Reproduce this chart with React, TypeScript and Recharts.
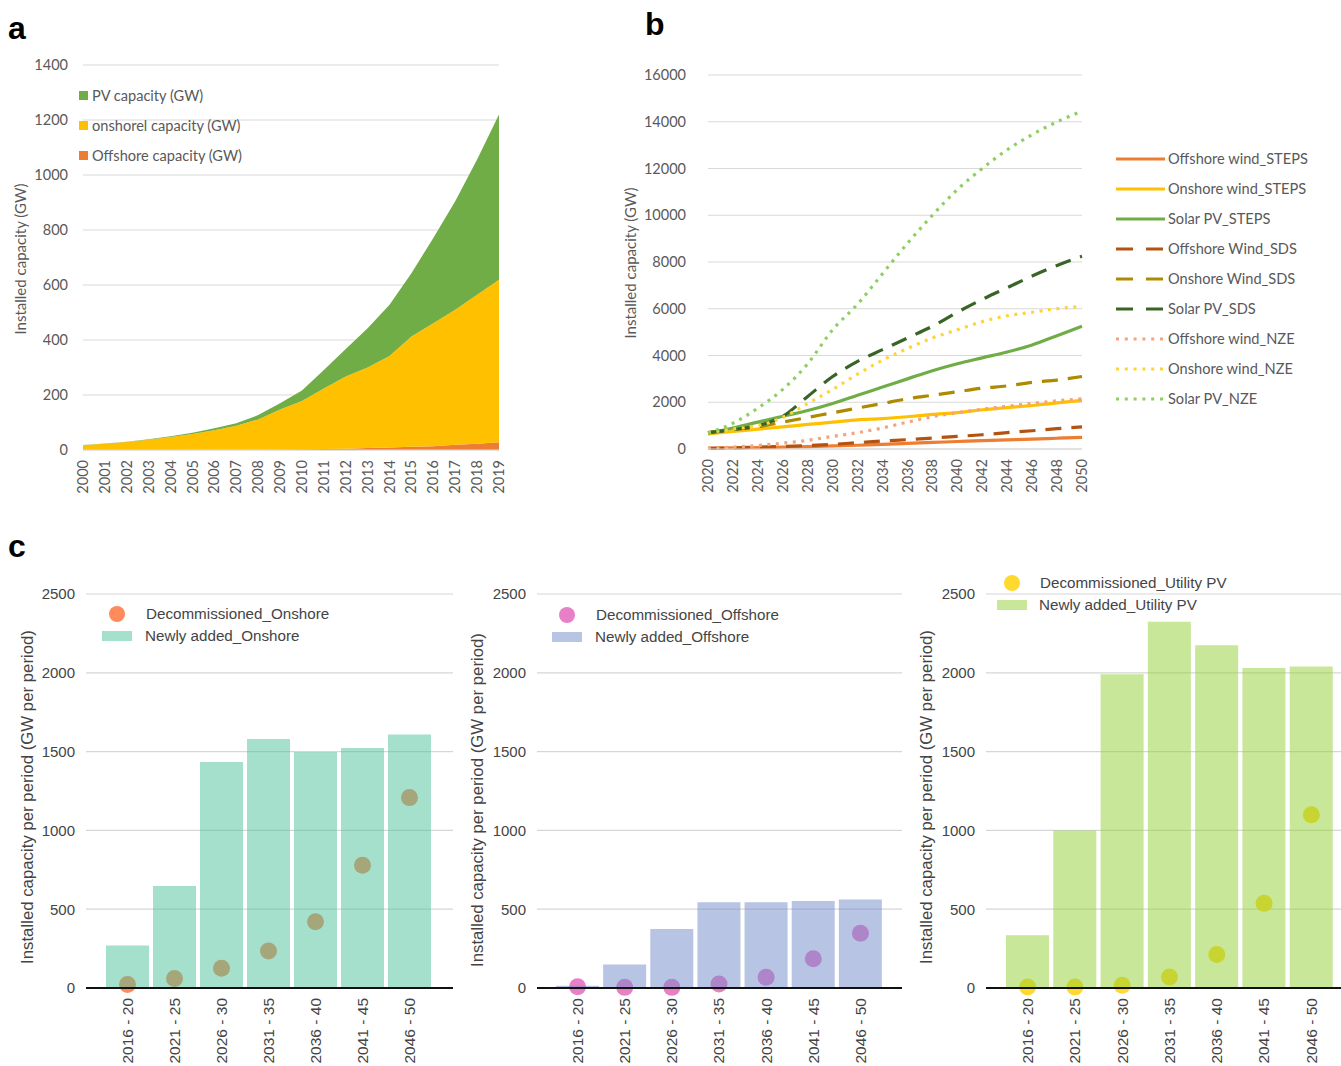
import React from 'react';
import {
  AreaChart,
  Area,
  LineChart,
  Line,
  ComposedChart,
  Bar,
  Scatter,
  XAxis,
  YAxis,
  CartesianGrid,
} from 'recharts';

// ---- panel a: historical installed capacity (GW)
const years = ['2000', '2001', '2002', '2003', '2004', '2005', '2006', '2007', '2008', '2009',
  '2010', '2011', '2012', '2013', '2014', '2015', '2016', '2017', '2018', '2019'];
const pvCapacity = [1, 1, 1, 2, 3, 5, 7, 9, 16, 23, 38, 67, 100, 143, 186, 230, 310, 395, 491, 601];
const onshoreCapacity = [17, 23, 29, 37, 47, 57, 71, 87, 110, 145, 175, 220, 262, 293, 333, 401, 447, 491, 542, 591];
const offshoreCapacity = [0, 0, 0, 0, 0, 1, 1, 1, 1, 2, 3, 4, 5, 7, 9, 12, 14, 19, 23, 28];
const aTicks = [0, 200, 400, 600, 800, 1000, 1200, 1400];

// ---- panel b: scenarios 2020-2050 (GW)
const scenarioYears = ['2020', '2022', '2024', '2026', '2028', '2030', '2032', '2034',
  '2036', '2038', '2040', '2042', '2044', '2046', '2048', '2050'];
const offshoreWindSTEPS = [30, 45, 60, 80, 100, 130, 160, 200, 240, 280, 320, 360, 390, 420, 460, 500];
const onshoreWindSTEPS = [650, 750, 850, 950, 1050, 1150, 1250, 1300, 1380, 1480, 1560, 1680, 1770, 1860, 1970, 2080];
const solarPvSTEPS = [680, 900, 1150, 1400, 1650, 1950, 2300, 2650, 3000, 3350, 3650, 3900, 4150, 4450, 4850, 5250];
const offshoreWindSDS = [30, 50, 80, 110, 150, 200, 270, 340, 400, 470, 540, 610, 700, 780, 870, 950];
const onshoreWindSDS = [700, 830, 950, 1150, 1350, 1550, 1750, 1950, 2150, 2300, 2450, 2600, 2700, 2850, 2950, 3100];
const solarPvSDS = [700, 830, 1000, 1400, 2250, 3100, 3750, 4250, 4750, 5250, 5850, 6400, 6900, 7400, 7850, 8250];
const offshoreWindNZE = [30, 80, 150, 250, 370, 540, 700, 900, 1150, 1380, 1550, 1700, 1830, 1950, 2060, 2150];
const onshoreWindNZE = [700, 850, 1000, 1350, 1950, 2550, 3200, 3800, 4300, 4750, 5100, 5450, 5700, 5850, 6000, 6100];
const solarPvNZE = [680, 1100, 1750, 2550, 3650, 5100, 6200, 7500, 8800, 10000, 11100, 12000, 12800, 13450, 14000, 14450];
const bTicks = [0, 2000, 4000, 6000, 8000, 10000, 12000, 14000, 16000];

// ---- panel c: capacity per period (GW per period)
const periods = ['2016 - 20', '2021 - 25', '2026 - 30', '2031 - 35', '2036 - 40', '2041 - 45', '2046 - 50'];
const onshoreAdded = [270, 647, 1434, 1580, 1497, 1523, 1608];
const onshoreDecom = [22, 61, 126, 235, 420, 779, 1208];
const offshoreAdded = [15, 149, 374, 544, 544, 552, 561];
const offshoreDecom = [8, 4, 4, 25, 68, 185, 348];
const pvAdded = [335, 1000, 1991, 2324, 2175, 2031, 2040];
const pvDecom = [6, 6, 17, 70, 212, 537, 1099];
const cTicks = [0, 500, 1000, 1500, 2000, 2500];

const OFFICE = 'Lato, "Open Sans", sans-serif';
const ARIAL = '"Liberation Sans", Arial, sans-serif';
const OFFICE_GREY = '#595959';

const bSeries = [
  { key: 'offWindSteps', name: 'Offshore wind_STEPS', values: offshoreWindSTEPS, color: '#ED7D31', dash: undefined },
  { key: 'onWindSteps', name: 'Onshore wind_STEPS', values: onshoreWindSTEPS, color: '#FFC000', dash: undefined },
  { key: 'pvSteps', name: 'Solar PV_STEPS', values: solarPvSTEPS, color: '#70AD47', dash: undefined },
  { key: 'offWindSds', name: 'Offshore Wind_SDS', values: offshoreWindSDS, color: '#B4520F', dash: '16 10' },
  { key: 'onWindSds', name: 'Onshore Wind_SDS', values: onshoreWindSDS, color: '#AD8A00', dash: '16 10' },
  { key: 'pvSds', name: 'Solar PV_SDS', values: solarPvSDS, color: '#3A6426', dash: '16 10' },
  { key: 'offWindNze', name: 'Offshore wind_NZE', values: offshoreWindNZE, color: '#F4A37A', dash: '3 5.5' },
  { key: 'onWindNze', name: 'Onshore wind_NZE', values: onshoreWindNZE, color: '#FFD43B', dash: '3 5.5' },
  { key: 'pvNze', name: 'Solar PV_NZE', values: solarPvNZE, color: '#8FCF62', dash: '3 5.5' },
];

const aData = years.map((y, i) => ({
  year: y,
  offshore: offshoreCapacity[i],
  onshore: onshoreCapacity[i],
  pv: pvCapacity[i],
}));

const bData = scenarioYears.map((y, i) => {
  const row: Record<string, string | number> = { year: y };
  bSeries.forEach(s => { row[s.key] = s.values[i]; });
  return row;
});

const RotatedTick = (props: any) => {
  const { x, y, payload, fontSize, fill, fontFamily } = props;
  return (
    <text
      x={x}
      y={y}
      transform={`rotate(-90 ${x} ${y})`}
      textAnchor="end"
      dx={-2}
      dy="0.35em"
      fontSize={fontSize}
      fill={fill}
      fontFamily={fontFamily}
    >
      {payload.value}
    </text>
  );
};

const VTitle = ({ x, y, text, size, font, color }: any) => (
  <div
    style={{
      position: 'absolute',
      left: x,
      top: y,
      transform: 'translate(-50%, -50%) rotate(-90deg)',
      whiteSpace: 'nowrap',
      fontSize: size,
      fontFamily: font,
      color,
    }}
  >
    {text}
  </div>
);

const PanelLetter = ({ x, y, letter }: any) => (
  <div style={{ position: 'absolute', left: x, top: y, fontSize: 32, fontWeight: 'bold', fontFamily: ARIAL, color: '#000', lineHeight: 1 }}>
    {letter}
  </div>
);

const PanelA = () => (
  <div style={{ position: 'absolute', left: 0, top: 50 }}>
    <AreaChart width={520} height={460} data={aData} margin={{ top: 15, right: 21, left: 23, bottom: 10 }}>
      <CartesianGrid vertical={false} stroke="#d9d9d9" />
      <XAxis
        dataKey="year"
        interval={0}
        height={50}
        axisLine={{ stroke: '#d9d9d9' }}
        tickLine={false}
        tick={<RotatedTick fontSize={14.5} fill={OFFICE_GREY} fontFamily={OFFICE} />}
      />
      <YAxis
        domain={[0, 1400]}
        ticks={aTicks}
        width={60}
        axisLine={false}
        tickLine={false}
        tickMargin={9}
        tick={{ fontSize: 14.5, fill: OFFICE_GREY, fontFamily: OFFICE }}
      />
      <Area type="linear" dataKey="offshore" stackId="a" stroke="none" fill="#ED7D31" fillOpacity={1} isAnimationActive={false} />
      <Area type="linear" dataKey="onshore" stackId="a" stroke="none" fill="#FFC000" fillOpacity={1} isAnimationActive={false} />
      <Area type="linear" dataKey="pv" stackId="a" stroke="none" fill="#70AD47" fillOpacity={1} isAnimationActive={false} />
    </AreaChart>
    <svg width={200} height={90} style={{ position: 'absolute', left: 70, top: 30 }}>
      {[
        { label: 'PV capacity (GW)', color: '#70AD47' },
        { label: 'onshorel capacity (GW)', color: '#FFC000' },
        { label: 'Offshore capacity (GW)', color: '#ED7D31' },
      ].map((e, i) => (
        <g key={e.label}>
          <rect x={9} y={11 + i * 30} width={9} height={9} fill={e.color} />
          <text x={22} y={15.5 + i * 30} dy="0.35em" fontSize={14.6} fill={OFFICE_GREY} fontFamily={OFFICE}>
            {e.label}
          </text>
        </g>
      ))}
    </svg>
  </div>
);

const PanelB = () => (
  <div style={{ position: 'absolute', left: 620, top: 50 }}>
    <LineChart width={480} height={460} data={bData} margin={{ top: 25, right: 18, left: 28, bottom: 10 }}>
      <CartesianGrid vertical={false} stroke="#d9d9d9" />
      <XAxis
        dataKey="year"
        interval={0}
        height={51}
        axisLine={{ stroke: '#d9d9d9' }}
        tickLine={false}
        tick={<RotatedTick fontSize={14.5} fill={OFFICE_GREY} fontFamily={OFFICE} />}
      />
      <YAxis
        domain={[0, 16000]}
        ticks={bTicks}
        width={60}
        axisLine={false}
        tickLine={false}
        tickMargin={16}
        tick={{ fontSize: 14.5, fill: OFFICE_GREY, fontFamily: OFFICE }}
      />
      {bSeries.map(s => (
        <Line
          key={s.key}
          type="monotone"
          dataKey={s.key}
          stroke={s.color}
          strokeWidth={3.2}
          strokeDasharray={s.dash}
          dot={false}
          isAnimationActive={false}
        />
      ))}
    </LineChart>
    <svg width={230} height={270} style={{ position: 'absolute', left: 490, top: 95 }}>
      {bSeries.map((s, i) => (
        <g key={s.key}>
          <line
            x1={6}
            x2={55}
            y1={14 + i * 30}
            y2={14 + i * 30}
            stroke={s.color}
            strokeWidth={3.2}
            strokeDasharray={s.dash ? (s.dash === '16 10' ? '17 13' : '3 5.8') : undefined}
          />
          <text x={58} y={14 + i * 30} dy="0.35em" fontSize={14.6} fill={OFFICE_GREY} fontFamily={OFFICE}>
            {s.name}
          </text>
        </g>
      ))}
    </svg>
  </div>
);

const PeriodChart = ({ left, width, marginLeft, marginRight, pad, added, decom, barColor, dotColor, legend }: any) => {
  const data = periods.map((p, i) => ({ period: p, added: added[i], decom: decom[i] }));
  return (
    <div style={{ position: 'absolute', left, top: 560 }}>
      <ComposedChart
        width={width}
        height={506}
        data={data}
        barCategoryGap={2}
        margin={{ top: 34, right: marginRight, left: marginLeft, bottom: 8 }}
      >
        <CartesianGrid vertical={false} stroke="#d6d6d6" strokeWidth={1.2} />
        <XAxis
          dataKey="period"
          interval={0}
          height={70}
          padding={pad}
          axisLine={{ stroke: '#111', strokeWidth: 2 }}
          tickLine={false}
          tick={<RotatedTick fontSize={15.5} fill="#444" fontFamily={ARIAL} />}
        />
        <YAxis
          domain={[0, 2500]}
          ticks={cTicks}
          width={60}
          axisLine={false}
          tickLine={false}
          tickMargin={5}
          tick={{ fontSize: 15, fill: '#444', fontFamily: ARIAL }}
        />
        <Scatter
          dataKey="decom"
          zIndex={100}
          isAnimationActive={false}
          shape={(p: any) => <circle cx={p.cx} cy={p.cy} r={8.5} fill={dotColor} />}
        />
        <Bar dataKey="added" zIndex={400} fill={barColor} fillOpacity={0.5} isAnimationActive={false} />
      </ComposedChart>
      <svg width={width} height={80} style={{ position: 'absolute', left: 0, top: legend.top - 560 }}>
        <circle cx={legend.dotX - left} cy={9} r={8} fill={dotColor} />
        <text x={legend.textX - left} y={9} dy="0.35em" fontSize={15.2} fill="#444" fontFamily={ARIAL}>
          {legend.decomLabel}
        </text>
        <rect x={legend.dotX - 15 - left} y={26} width={30} height={10} fill={barColor} fillOpacity={0.5} />
        <text x={legend.textX - 1 - left} y={31} dy="0.35em" fontSize={15.2} fill="#444" fontFamily={ARIAL}>
          {legend.addedLabel}
        </text>
      </svg>
    </div>
  );
};

export default function App() {
  return (
    <div style={{ position: 'absolute', left: 0, top: 0, width: 1341, height: 1066, background: '#fff', overflow: 'hidden' }}>
      <PanelLetter x={8} y={12} letter="a" />
      <PanelLetter x={645} y={8} letter="b" />
      <PanelLetter x={8} y={530} letter="c" />

      <PanelA />
      <VTitle x={20} y={259} text="Installed capacity (GW)" size={15} font={OFFICE} color={OFFICE_GREY} />

      <PanelB />
      <VTitle x={630} y={263} text="Installed capacity (GW)" size={15} font={OFFICE} color={OFFICE_GREY} />

      <PeriodChart
        left={0}
        width={460}
        marginLeft={26}
        marginRight={7}
        pad={{ left: 18, right: 20 }}
        added={onshoreAdded}
        decom={onshoreDecom}
        barColor="#4BC199"
        dotColor="#FF8A5B"
        legend={{ top: 605, dotX: 117, textX: 146, decomLabel: 'Decommissioned_Onshore', addedLabel: 'Newly added_Onshore' }}
      />
      <VTitle x={28} y={797} text="Installed capacity per period (GW per period)" size={16.8} font={ARIAL} color="#444" />

      <PeriodChart
        left={455}
        width={460}
        marginLeft={22}
        marginRight={13}
        pad={{ left: 17, right: 18 }}
        added={offshoreAdded}
        decom={offshoreDecom}
        barColor="#7189C9"
        dotColor="#E880C7"
        legend={{ top: 606, dotX: 567, textX: 596, decomLabel: 'Decommissioned_Offshore', addedLabel: 'Newly added_Offshore' }}
      />
      <VTitle x={478} y={800} text="Installed capacity per period (GW per period)" size={16.8} font={ARIAL} color="#444" />

      <PeriodChart
        left={900}
        width={441}
        marginLeft={26}
        marginRight={0}
        pad={{ left: 18, right: 6 }}
        added={pvAdded}
        decom={pvDecom}
        barColor="#91CF33"
        dotColor="#FFD92F"
        legend={{ top: 574, dotX: 1012, textX: 1040, decomLabel: 'Decommissioned_Utility PV', addedLabel: 'Newly added_Utility PV' }}
      />
      <VTitle x={927} y={797} text="Installed capacity per period (GW per period)" size={16.8} font={ARIAL} color="#444" />
    </div>
  );
}
